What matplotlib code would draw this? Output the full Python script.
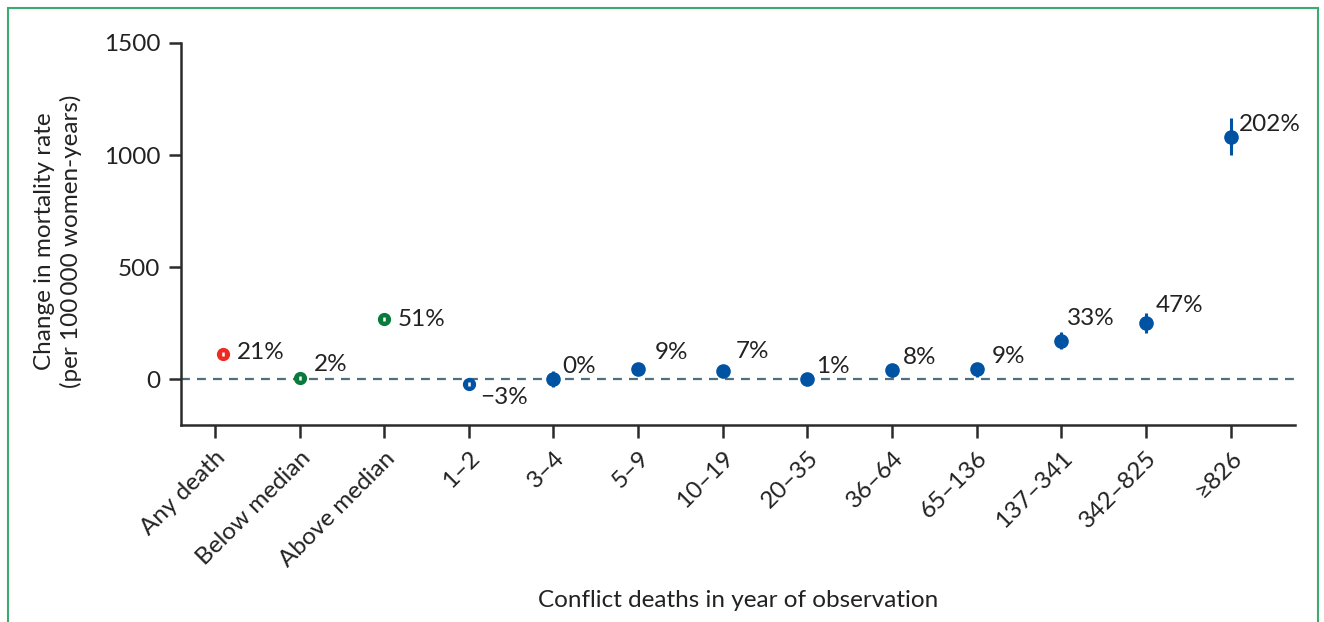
import matplotlib
matplotlib.use("Agg")
import matplotlib.pyplot as plt
from matplotlib.patches import Rectangle
from matplotlib.transforms import ScaledTranslation

plt.rcParams['font.family'] = ['Lato', 'DejaVu Sans']

# Exposure categories along the x axis
categories = ["Any death", "Below median", "Above median", "1\u20132", "3\u20134",
              "5\u20139", "10\u201319", "20\u201335", "36\u201364", "65\u2013136",
              "137\u2013341", "342\u2013825", "\u2265826"]

# Change in mortality rate (per 100 000 women-years) with 95% CI
estimate = [112, 5, 268, -22, 0, 45, 36, 2, 40, 45, 172, 250, 1080]
ci_low = [104, -3, 258, -30, -36, 38, 30, -4, 10, 10, 134, 205, 1000]
ci_high = [120, 13, 278, -14, 36, 52, 42, 8, 60, 62, 210, 295, 1165]

# Relative change labels
pct_labels = ["21%", "2%", "51%", "\u22123%", "0%", "9%", "7%", "1%", "8%", "9%",
              "33%", "47%", "202%"]

yticks = [0, 500, 1000, 1500]

# Colour groups: overall, median split, detailed bins
RED, GREEN, BLUE = "#EE2A24", "#0A7A3C", "#0052A3"
colors = [RED, GREEN, GREEN] + [BLUE] * 10
# narrow intervals are shown as a white slit inside the marker
bar_colors = ["white"] * 4 + [BLUE] * 9
marker_sizes = [8.5, 8.5, 8.5, 8.5] + [9.5] * 9
# small horizontal nudge of the overall estimate off its tick
x_nudge = [0.095] + [0.0] * 12
# label offsets in points (dx, dy)
label_dx = [10, 10, 10, 8, 6, 12, 9, 6, 8, 11, 4, 7, 6]
label_dy = [1, 10, 0, -10, 9, 12, 14, 9, 9, 9, 16, 13, 9]

FS = 17.5
TXT = "#222222"

fig = plt.figure(figsize=(13.24, 6.22), dpi=100)
ax = fig.add_axes([0.1367, 0.3167, 0.978 - 0.1367, 0.9309 - 0.3167])

ax.axhline(0, color="#4F6F7E", lw=1.6, ls=(0, (4, 3.2)), zorder=1)

for i, cat in enumerate(categories):
    x = i + x_nudge[i]
    y = estimate[i]
    ax.plot(x, y, "o", color=colors[i], ms=marker_sizes[i], mec=colors[i], zorder=3)
    ax.vlines(x, ci_low[i], ci_high[i], color=bar_colors[i],
              lw=2.2 if i >= 4 else 1.8, zorder=4 if i < 4 else 2)
    ax.annotate(pct_labels[i], (x, y), xytext=(label_dx[i], label_dy[i]),
                textcoords="offset points", ha="left", va="center",
                fontsize=FS, color=TXT)

ax.set_xlim(-0.40, 12.757)
ax.set_ylim(-205, 1500)
ax.set_yticks(yticks)
ax.set_yticklabels([str(t) for t in yticks], fontsize=FS, color=TXT)
ax.set_xticks(range(len(categories)))
ax.set_xticklabels(categories, rotation=45, ha="right", va="top",
                   rotation_mode="anchor", fontsize=FS, color=TXT)
shift = ScaledTranslation(-0.07, -0.05, fig.dpi_scale_trans)
for lbl in ax.get_xticklabels():
    lbl.set_transform(lbl.get_transform() + shift)

for side in ("top", "right"):
    ax.spines[side].set_visible(False)
for side in ("left", "bottom"):
    ax.spines[side].set_linewidth(1.8)
    ax.spines[side].set_color("#2b2b2b")
ax.tick_params(axis="both", direction="out", length=9, width=1.8, color="#2b2b2b")
ax.tick_params(axis="x", pad=7)
ax.tick_params(axis="y", pad=6)

ax.set_ylabel("Change in mortality rate\n(per 100\u2009000 women-years)",
              fontsize=FS, color=TXT, linespacing=1.32)
ax.yaxis.set_label_coords(-0.0885, 0.48)
ax.set_xlabel("Conflict deaths in year of observation", fontsize=FS,
              color=TXT, labelpad=14)

# thin frame around the figure
fig.patches.append(Rectangle((7.5 / 1324, -0.05), (1318 - 7.5) / 1324, 1.05 - 7.5 / 622,
                             transform=fig.transFigure, fill=False,
                             edgecolor="#3DAA6F", lw=1.5))

fig.savefig("out.png", dpi=100)
